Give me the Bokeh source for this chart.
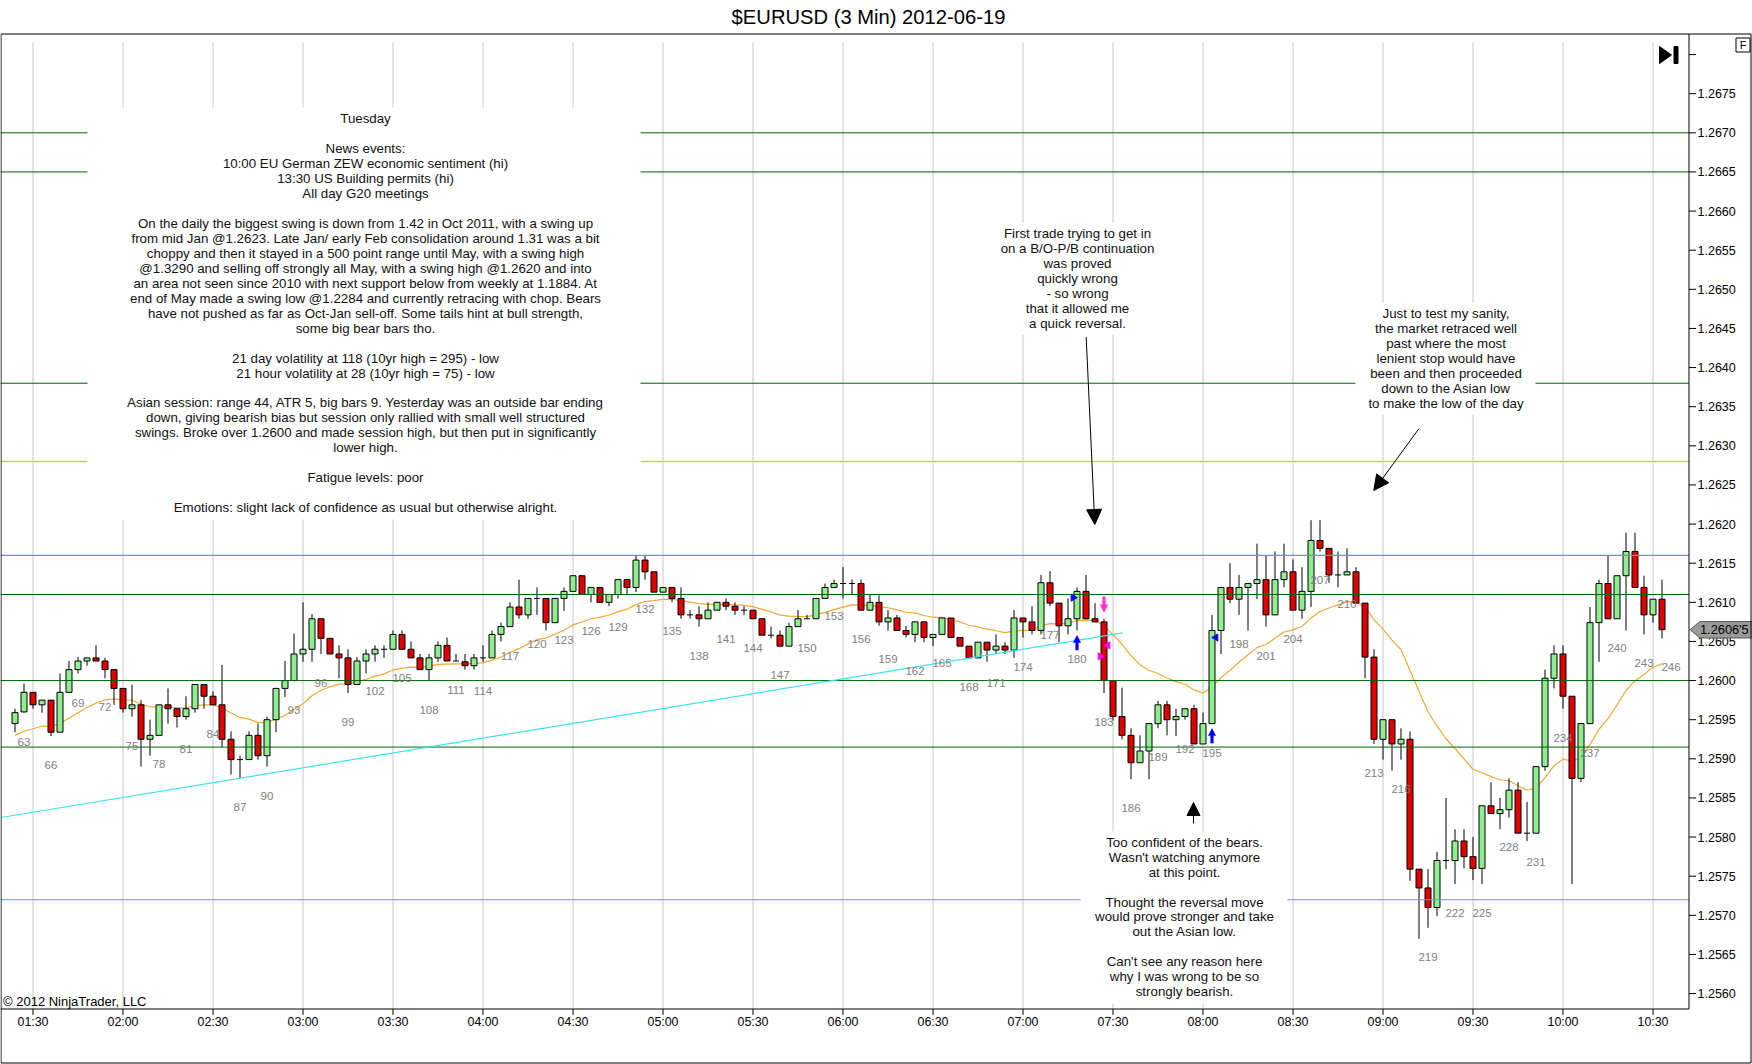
import math
from bokeh.plotting import figure
from bokeh.models import Range1d, Arrow, NormalHead
from bokeh.core.properties import value
from bokeh.embed import file_html
from bokeh.resources import INLINE

# ---------------------------------------------------------------- data
TITLE = "$EURUSD (3 Min)  2012-06-19"
COPYRIGHT = "\u00a9 2012 NinjaTrader, LLC"
first_bar = 62

opens = [1.25945, 1.25960, 1.25985, 1.25969, 1.25975, 1.25934, 1.25985, 1.26014, 1.26025, 1.26029,
         1.26025, 1.26014, 1.25990, 1.25964, 1.25969, 1.25925, 1.25930, 1.25969, 1.25964, 1.25954,
         1.25964, 1.25995, 1.25980, 1.25969, 1.25925, 1.25899, 1.25899, 1.25930, 1.25904, 1.25950,
         1.25990, 1.26000, 1.26034, 1.26040, 1.26079, 1.26054, 1.26034, 1.26029, 1.25995, 1.26025,
         1.26034, 1.26040, 1.26040, 1.26059, 1.26040, 1.26029, 1.26014, 1.26029, 1.26045, 1.26025,
         1.26024, 1.26019, 1.26029, 1.26029, 1.26059, 1.26069, 1.26094, 1.26084, 1.26105, 1.26105,
         1.26074, 1.26105, 1.26114, 1.26134, 1.26110, 1.26119, 1.26100, 1.26110, 1.26129, 1.26119,
         1.26154, 1.26139, 1.26113, 1.26119, 1.26105, 1.26084, 1.26084, 1.26079, 1.26090, 1.26100,
         1.26095, 1.26090, 1.26090, 1.26079, 1.26058, 1.26058, 1.26044, 1.26069, 1.26079, 1.26079,
         1.26105, 1.26119, 1.26124, 1.26124, 1.26124, 1.26090, 1.26100, 1.26075, 1.26080, 1.26064,
         1.26059, 1.26075, 1.26055, 1.26059, 1.26080, 1.26055, 1.26044, 1.26029, 1.26049, 1.26039,
         1.26044, 1.26039, 1.26080, 1.26075, 1.26064, 1.26125, 1.26099, 1.26070, 1.26079, 1.26114,
         1.26079, 1.26075, 1.26000, 1.25954, 1.25930, 1.25895, 1.25910, 1.25945, 1.25969, 1.25950,
         1.25954, 1.25964, 1.25919, 1.25945, 1.26064, 1.26119, 1.26104, 1.26119, 1.26124, 1.26129,
         1.26084, 1.26129, 1.26139, 1.26090, 1.26114, 1.26179, 1.26169, 1.26135, 1.26135, 1.26139,
         1.26099, 1.26030, 1.25925, 1.25950, 1.25919, 1.25925, 1.25759, 1.25735, 1.25710, 1.25770,
         1.25770, 1.25795, 1.25775, 1.25760, 1.25840, 1.25830, 1.25835, 1.25860, 1.25805, 1.25805,
         1.25890, 1.26003, 1.26034, 1.25980, 1.25875, 1.25945, 1.26074, 1.26124, 1.26079, 1.26134,
         1.26165, 1.26119, 1.26084, 1.26104]
highs = [1.25964, 1.25996, 1.25985, 1.25975, 1.25975, 1.26009, 1.26025, 1.26030, 1.26029, 1.26045,
         1.26029, 1.26014, 1.25990, 1.25995, 1.25975, 1.25950, 1.25969, 1.25990, 1.25964, 1.25980,
         1.25995, 1.25995, 1.25986, 1.26020, 1.25935, 1.25904, 1.25935, 1.25945, 1.25954, 1.25990,
         1.26025, 1.26060, 1.26100, 1.26085, 1.26079, 1.26054, 1.26045, 1.26040, 1.26030, 1.26040,
         1.26045, 1.26045, 1.26064, 1.26064, 1.26050, 1.26034, 1.26034, 1.26050, 1.26055, 1.26034,
         1.26034, 1.26034, 1.26045, 1.26064, 1.26074, 1.26100, 1.26129, 1.26105, 1.26119, 1.26105,
         1.26105, 1.26119, 1.26134, 1.26134, 1.26119, 1.26119, 1.26110, 1.26129, 1.26129, 1.26160,
         1.26160, 1.26139, 1.26119, 1.26119, 1.26119, 1.26090, 1.26095, 1.26100, 1.26100, 1.26105,
         1.26100, 1.26095, 1.26090, 1.26079, 1.26069, 1.26064, 1.26074, 1.26090, 1.26084, 1.26105,
         1.26124, 1.26129, 1.26145, 1.26129, 1.26129, 1.26110, 1.26109, 1.26090, 1.26084, 1.26070,
         1.26075, 1.26075, 1.26059, 1.26080, 1.26080, 1.26055, 1.26044, 1.26049, 1.26049, 1.26059,
         1.26049, 1.26090, 1.26080, 1.26095, 1.26135, 1.26140, 1.26099, 1.26105, 1.26119, 1.26135,
         1.26099, 1.26079, 1.26000, 1.25991, 1.25939, 1.25930, 1.25945, 1.25974, 1.25974, 1.25964,
         1.25964, 1.25969, 1.25959, 1.26084, 1.26119, 1.26150, 1.26135, 1.26124, 1.26175, 1.26160,
         1.26165, 1.26175, 1.26155, 1.26145, 1.26205, 1.26205, 1.26169, 1.26165, 1.26169, 1.26145,
         1.26099, 1.26040, 1.25950, 1.25950, 1.25939, 1.25935, 1.25759, 1.25759, 1.25781, 1.25850,
         1.25810, 1.25810, 1.25800, 1.25840, 1.25870, 1.25850, 1.25875, 1.25870, 1.25845, 1.25890,
         1.26014, 1.26045, 1.26045, 1.25980, 1.25945, 1.26094, 1.26129, 1.26160, 1.26134, 1.26189,
         1.26189, 1.26134, 1.26104, 1.26129]
lows = [1.25934, 1.25959, 1.25964, 1.25959, 1.25929, 1.25934, 1.25985, 1.26009, 1.26019, 1.26025,
        1.26003, 1.25969, 1.25959, 1.25954, 1.25890, 1.25904, 1.25930, 1.25945, 1.25940, 1.25950,
        1.25959, 1.25964, 1.25969, 1.25915, 1.25880, 1.25875, 1.25899, 1.25899, 1.25890, 1.25934,
        1.25979, 1.26000, 1.26024, 1.26024, 1.26034, 1.26034, 1.26003, 1.25984, 1.25995, 1.26009,
        1.26024, 1.26029, 1.26040, 1.26040, 1.26029, 1.26014, 1.26000, 1.26024, 1.26025, 1.26025,
        1.26014, 1.26014, 1.26024, 1.26029, 1.26050, 1.26069, 1.26079, 1.26079, 1.26084, 1.26064,
        1.26074, 1.26089, 1.26114, 1.26110, 1.26100, 1.26100, 1.26095, 1.26105, 1.26110, 1.26113,
        1.26129, 1.26113, 1.26113, 1.26100, 1.26079, 1.26079, 1.26069, 1.26079, 1.26090, 1.26090,
        1.26084, 1.26084, 1.26079, 1.26058, 1.26054, 1.26044, 1.26044, 1.26069, 1.26079, 1.26079,
        1.26105, 1.26119, 1.26105, 1.26110, 1.26090, 1.26090, 1.26070, 1.26064, 1.26064, 1.26055,
        1.26049, 1.26049, 1.26044, 1.26059, 1.26055, 1.26044, 1.26029, 1.26029, 1.26024, 1.26034,
        1.26034, 1.26029, 1.26055, 1.26059, 1.26059, 1.26095, 1.26049, 1.26059, 1.26064, 1.26079,
        1.26075, 1.25984, 1.25949, 1.25925, 1.25874, 1.25895, 1.25874, 1.25939, 1.25930, 1.25929,
        1.25950, 1.25919, 1.25919, 1.25945, 1.26034, 1.26099, 1.26084, 1.26064, 1.26104, 1.26069,
        1.26084, 1.26119, 1.26090, 1.26079, 1.26094, 1.26165, 1.26125, 1.26119, 1.26135, 1.26099,
        1.26003, 1.25919, 1.25899, 1.25885, 1.25899, 1.25744, 1.25670, 1.25684, 1.25699, 1.25759,
        1.25740, 1.25760, 1.25745, 1.25740, 1.25830, 1.25810, 1.25825, 1.25805, 1.25795, 1.25805,
        1.25885, 1.25990, 1.25964, 1.25740, 1.25870, 1.25945, 1.26024, 1.26079, 1.26079, 1.26064,
        1.26119, 1.26059, 1.26074, 1.26054]
closes = [1.25959, 1.25985, 1.25969, 1.25975, 1.25934, 1.25985, 1.26014, 1.26025, 1.26029, 1.26025,
          1.26014, 1.25990, 1.25964, 1.25969, 1.25925, 1.25930, 1.25969, 1.25964, 1.25954, 1.25964,
          1.25995, 1.25980, 1.25969, 1.25925, 1.25899, 1.25899, 1.25930, 1.25904, 1.25950, 1.25990,
          1.26000, 1.26034, 1.26040, 1.26079, 1.26054, 1.26034, 1.26029, 1.25995, 1.26025, 1.26034,
          1.26040, 1.26040, 1.26059, 1.26040, 1.26029, 1.26014, 1.26029, 1.26045, 1.26025, 1.26025,
          1.26019, 1.26029, 1.26029, 1.26059, 1.26069, 1.26094, 1.26084, 1.26105, 1.26105, 1.26074,
          1.26105, 1.26114, 1.26134, 1.26110, 1.26119, 1.26100, 1.26110, 1.26129, 1.26119, 1.26154,
          1.26139, 1.26113, 1.26119, 1.26105, 1.26084, 1.26084, 1.26079, 1.26090, 1.26100, 1.26095,
          1.26090, 1.26090, 1.26079, 1.26058, 1.26058, 1.26044, 1.26069, 1.26079, 1.26079, 1.26105,
          1.26119, 1.26124, 1.26124, 1.26124, 1.26090, 1.26100, 1.26075, 1.26080, 1.26064, 1.26059,
          1.26075, 1.26055, 1.26059, 1.26080, 1.26055, 1.26044, 1.26029, 1.26049, 1.26039, 1.26044,
          1.26039, 1.26080, 1.26075, 1.26064, 1.26125, 1.26099, 1.26070, 1.26079, 1.26114, 1.26079,
          1.26075, 1.26000, 1.25954, 1.25930, 1.25895, 1.25910, 1.25945, 1.25969, 1.25950, 1.25954,
          1.25964, 1.25919, 1.25945, 1.26064, 1.26119, 1.26104, 1.26119, 1.26124, 1.26129, 1.26084,
          1.26129, 1.26139, 1.26090, 1.26114, 1.26179, 1.26169, 1.26135, 1.26135, 1.26139, 1.26099,
          1.26030, 1.25925, 1.25950, 1.25919, 1.25925, 1.25759, 1.25735, 1.25710, 1.25770, 1.25770,
          1.25795, 1.25775, 1.25760, 1.25840, 1.25830, 1.25835, 1.25860, 1.25805, 1.25805, 1.25890,
          1.26003, 1.26034, 1.25980, 1.25875, 1.25945, 1.26074, 1.26124, 1.26079, 1.26134, 1.26165,
          1.26119, 1.26084, 1.26104, 1.26065]
bars = list(range(first_bar, first_bar + len(closes)))

last_price_text = "1.2606'5"
ma_period = 20            # exponential moving average of closes
ma_seed = 1.25930         # MA value read at the first visible bar

time_bars = [64, 74, 84, 94, 104, 114, 124, 134, 144, 154, 164, 174, 184, 194, 204, 214, 224, 234, 244]
time_labels = ["01:30", "02:00", "02:30", "03:00", "03:30", "04:00", "04:30", "05:00", "05:30", "06:00",
               "06:30", "07:00", "07:30", "08:00", "08:30", "09:00", "09:30", "10:00", "10:30"]
price_ticks = [1.2560, 1.2565, 1.2570, 1.2575, 1.2580, 1.2585, 1.2590, 1.2595, 1.2600, 1.2605,
               1.2610, 1.2615, 1.2620, 1.2625, 1.2630, 1.2635, 1.2640, 1.2645, 1.2650, 1.2655,
               1.2660, 1.2665, 1.2670, 1.2675]
unlabelled_ticks = [1.2680]

green_levels = [1.2670, 1.2665, 1.2638, 1.2611, 1.2600, 1.25915]
cyan_levels = [1.2616, 1.2572]
yellow_levels = [1.2628]
trend_bars = [60.44, 185.08]
trend_prices = [1.25825, 1.26061]

label_bars = list(range(63, 247, 3))
long_entry_bars = [180, 195]
short_entry_bars = [183]
fill_bars = [180, 195, 183, 183]
fill_prices = [1.26106, 1.26055, 1.26045, 1.26031]
fill_sides = ["left", "right", "right", "left"]
fill_colors = ["#0000ff", "#0000ff", "#ff00ff", "#ff00ff"]

left_note = [
    "Tuesday",
    "",
    "News events:",
    "10:00 EU German ZEW economic sentiment (hi)",
    "13:30 US Building permits (hi)",
    "All day G20 meetings",
    "",
    "On the daily the biggest swing is down from 1.42 in Oct 2011, with a swing up",
    "from mid Jan @1.2623. Late Jan/ early Feb consolidation around 1.31 was a bit",
    "choppy and then it stayed in a 500 point range until May, with a swing high",
    "@1.3290 and selling off strongly all May, with a swing high @1.2620 and into",
    "an area not seen since 2010 with next support below from weekly at 1.1884. At",
    "end of May made a swing low @1.2284 and currently retracing with chop. Bears",
    "have not pushed as far as Oct-Jan sell-off. Some tails hint at bull strength,",
    "some big bear bars tho.",
    "",
    "21 day volatility at 118 (10yr high = 295) - low",
    "21 hour volatility at 28 (10yr high = 75) - low",
    "",
    "Asian session: range 44, ATR 5, big bars 9. Yesterday was an outside bar ending",
    "down, giving bearish bias but session only rallied with small well structured",
    "swings. Broke over 1.2600 and made session high, but then put in significantly",
    "lower high.",
    "",
    "Fatigue levels: poor",
    "",
    "Emotions: slight lack of confidence as usual but otherwise alright.",
]
first_trade_note = ["First trade trying to get in", "on a B/O-P/B continuation", "was proved",
                    "quickly wrong", "- so wrong", "that it allowed me", "a quick reversal."]
sanity_note = ["Just to test my sanity,", "the market retraced well", "past where the most",
               "lenient stop would have", "been and then proceeded", "down to the Asian low",
               "to make the low of the day"]
bears_note = ["Too confident of the bears.", "Wasn't watching anymore", "at this point.", "",
              "Thought the reversal move", "would prove stronger and take", "out the Asian low.", "",
              "Can't see any reason here", "why I was wrong to be so", "strongly bearish."]

# ---------------------------------------------------------------- layout helpers
W, H = 1752, 1064
PX_PER_BAR = 9.0
BAR0_X = 14.5
PX_PER_PRICE = 78250.0
P_REF, P_REF_Y = 1.2675, 93.2
FONT = "Liberation Sans"
AX_X, AX_Y, TOP_Y = 1688.5, 1008.5, 33.5


def dx(X):
    return first_bar + (X - BAR0_X) / PX_PER_BAR


def dy(Y):
    return P_REF - (Y - P_REF_Y) / PX_PER_PRICE


def fs(px):
    return f"{px:.1f}px"


p = figure(width=W, height=H, output_backend="svg", toolbar_location=None, title=None,
           x_range=Range1d(dx(0), dx(W)), y_range=Range1d(dy(H), dy(0)),
           x_axis_location=None, y_axis_location=None,
           min_border_left=0, min_border_right=0, min_border_top=0, min_border_bottom=0)
p.background_fill_color = "white"
p.border_fill_color = "white"
p.outline_line_color = None
p.grid.visible = False

# vertical grid lines
grid_top = dy(41.7)
p.segment(x0=time_bars, y0=[grid_top] * len(time_bars), x1=time_bars, y1=[dy(AX_Y)] * len(time_bars),
          line_color="#c8c8c8", line_width=1)

# moving average (EMA of closes)
alpha = 2.0 / (ma_period + 1)
ma = []
prev = ma_seed
for i, c in enumerate(closes):
    if i > 0:
        prev = prev + alpha * (c - prev)
    ma.append(prev)
p.line(bars, ma, line_color="#f4a836", line_width=1.2)

# candles
HALF = 3.0 / PX_PER_BAR
p.segment(x0=bars, y0=lows, x1=bars, y1=highs, line_color="black", line_width=1)
up_i = [i for i in range(len(bars)) if closes[i] > opens[i]]
dn_i = [i for i in range(len(bars)) if closes[i] < opens[i]]
dj_i = [i for i in range(len(bars)) if closes[i] == opens[i]]
p.quad(left=[bars[i] - HALF for i in up_i], right=[bars[i] + HALF for i in up_i],
       bottom=[opens[i] for i in up_i], top=[closes[i] for i in up_i],
       fill_color="#90ee90", line_color="black", line_width=1)
p.quad(left=[bars[i] - HALF for i in dn_i], right=[bars[i] + HALF for i in dn_i],
       bottom=[closes[i] for i in dn_i], top=[opens[i] for i in dn_i],
       fill_color="#e00000", line_color="black", line_width=1)
p.segment(x0=[bars[i] - HALF for i in dj_i], y0=[opens[i] for i in dj_i],
          x1=[bars[i] + HALF for i in dj_i], y1=[opens[i] for i in dj_i],
          line_color="black", line_width=1)

# horizontal levels and trend line
for levels, col, lw in ((green_levels, "#006400", 1.0), (cyan_levels, "#35b0c4", 1.1),
                        (yellow_levels, "#b9dc55", 1.3)):
    p.segment(x0=[dx(0)] * len(levels), y0=levels, x1=[dx(AX_X)] * len(levels), y1=levels,
              line_color=col, line_width=lw)
p.line(trend_bars, trend_prices, line_color="#40e0f0", line_width=1.2)

# note boxes + texts
notes = [
    (left_note, 365.0, 118.4, (87, 640, 107, 519)),
    (first_trade_note, 1077.0, 233.3, (990, 1164, 222, 334)),
    (sanity_note, 1445.5, 313.3, (1355, 1535, 302, 414)),
    (bears_note, 1184.0, 841.7, (1080, 1287, 831, 1003)),
]
LINE = 14.95
p.quad(left=[dx(n[3][0]) for n in notes], right=[dx(n[3][1]) for n in notes],
       bottom=[dy(n[3][3]) for n in notes], top=[dy(n[3][2]) for n in notes],
       fill_color="white", line_color=None)
tx, ty, tt = [], [], []
for lines, cx, ytop, _ in notes:
    for k, s in enumerate(lines):
        if s:
            tx.append(dx(cx))
            ty.append(dy(ytop + k * LINE))
            tt.append(s)
p.text(x=tx, y=ty, text=tt, text_font=value(FONT), text_font_size=value(fs(13.35)),
       text_align="center", text_baseline="middle", text_color="#111111")

# bar-number labels under the lows
lab_y = [lows[b - first_bar] if b - first_bar < len(lows) else lows[-1] for b in label_bars]
p.text(x=label_bars, y=lab_y, text=[str(b) for b in label_bars], y_offset=29,
       text_font=value(FONT), text_font_size=value(fs(11.5)), text_align="center",
       text_baseline="middle", text_color="#808080")

# copyright
p.text(x=[dx(2.5)], y=[dy(1000.7)], text=[COPYRIGHT], text_font=value(FONT),
       text_font_size=value(fs(13.0)), text_align="left", text_baseline="middle",
       text_color="black")

# trade arrows (shape in reference pixels)
def shape(bx, by, pts, sign):
    return ([bx + ox / PX_PER_BAR for ox, oy in pts],
            [by - sign * oy / PX_PER_PRICE for ox, oy in pts])

up_pts = [(0, 5), (3.6, 12), (1.3, 12), (1.3, 19.5), (-1.3, 19.5), (-1.3, 12), (-3.6, 12)]
xs, ys = [], []
for b in long_entry_bars:
    a, c = shape(b, lows[b - first_bar], up_pts, 1)
    xs.append(a); ys.append(c)
p.patches(xs, ys, fill_color="#0000ff", line_color="#0000ff", line_width=0.5)
dn_pts = [(0, 6.5), (3.8, 14), (1.3, 14), (1.3, 22), (-1.3, 22), (-1.3, 14), (-3.8, 14)]
xs, ys = [], []
for b in short_entry_bars:
    a, c = shape(b, highs[b - first_bar], dn_pts, -1)
    xs.append(a); ys.append(c)
p.patches(xs, ys, fill_color="#ff33cc", line_color="#ff33cc", line_width=0.5)

# execution markers
for b, pr, side, col in zip(fill_bars, fill_prices, fill_sides, fill_colors):
    off = -0.42 if side == "left" else 0.42
    ang = -math.pi / 2 if side == "left" else math.pi / 2
    p.scatter([b + off], [pr], marker="triangle", size=7, angle=ang, fill_color=col,
              line_color=col)

# "go to end" icon
p.patch([dx(1659), dx(1659), dx(1671)], [dy(46), dy(63), dy(54.5)], fill_color="black",
        line_color="black")
p.quad(left=[dx(1673.5)], right=[dx(1677.5)], bottom=[dy(63)], top=[dy(46)],
       fill_color="black", line_color="black")

# annotation arrows
for (xa0, ya0, xa1, ya1, sz) in [(1085.7, 336.7, 1094.3, 524.0, 15),
                                 (1418.3, 428.3, 1373.3, 490.0, 15),
                                 (1193.0, 823.0, 1193.0, 802.0, 13)]:
    p.add_layout(Arrow(end=NormalHead(size=sz, fill_color="black", line_color="black"),
                       x_start=dx(xa0), y_start=dy(ya0), x_end=dx(xa1), y_end=dy(ya1),
                       line_color="black", line_width=1))

# ---------------------------------------------------------------- axes (price right, time below)
p.segment(x0=[dx(AX_X), dx(0)], y0=[dy(TOP_Y), dy(AX_Y)], x1=[dx(AX_X), dx(AX_X)],
          y1=[dy(AX_Y), dy(AX_Y)], line_color="black", line_width=1)
all_ticks = price_ticks + unlabelled_ticks
p.segment(x0=[dx(AX_X)] * len(all_ticks), y0=all_ticks, x1=[dx(AX_X + 7)] * len(all_ticks),
          y1=all_ticks, line_color="black", line_width=1)
p.text(x=[dx(AX_X + 8.5)] * len(price_ticks), y=price_ticks, text=[f"{t:.4f}" for t in price_ticks],
       text_font=value(FONT), text_font_size=value(fs(12.5)), text_align="left",
       text_baseline="middle", text_color="black")
p.segment(x0=time_bars, y0=[dy(AX_Y)] * len(time_bars), x1=time_bars,
          y1=[dy(AX_Y + 6)] * len(time_bars), line_color="black", line_width=1)
p.text(x=time_bars, y=[dy(1021.7)] * len(time_bars), text=time_labels, text_font=value(FONT),
       text_font_size=value(fs(12.4)), text_align="center", text_baseline="middle",
       text_color="black")

# current price marker on the axis
p.patch([dx(1689.5), dx(1699.5), dx(1752), dx(1752), dx(1699.5)],
        [closes[-1], dy(621.0), dy(621.0), dy(637.5), dy(637.5)],
        fill_color="#9a9a9a", line_color="#5a5a5a", line_width=1)
p.text(x=[dx(1699.5)], y=[closes[-1]], text=[last_price_text], text_font=value(FONT),
       text_font_size=value(fs(12.8)), text_align="left", text_baseline="middle",
       text_color="black")

# outer frame, title, "F" box
p.multi_line(xs=[[dx(0.5), dx(0.5), dx(1750.5), dx(1750.5), dx(0.5)]],
             ys=[[dy(TOP_Y), dy(1062.5), dy(1062.5), dy(TOP_Y), dy(TOP_Y)]],
             line_color="black", line_width=1)
p.text(x=[dx(870.8)], y=[dy(16.8)], text=[TITLE], text_font=value(FONT),
       text_font_size=value(fs(20.2)), text_align="center", text_baseline="middle",
       text_color="black")
p.quad(left=[dx(1735.5)], right=[dx(1749.5)], top=[dy(37.5)], bottom=[dy(51.5)],
       fill_color="white", line_color="black", line_width=1)
p.text(x=[dx(1742.5)], y=[dy(44.5)], text=["F"], text_font=value(FONT),
       text_font_size=value(fs(11)), text_align="center", text_baseline="middle",
       text_color="black")

open("out.html", "w").write(file_html(p, INLINE))
